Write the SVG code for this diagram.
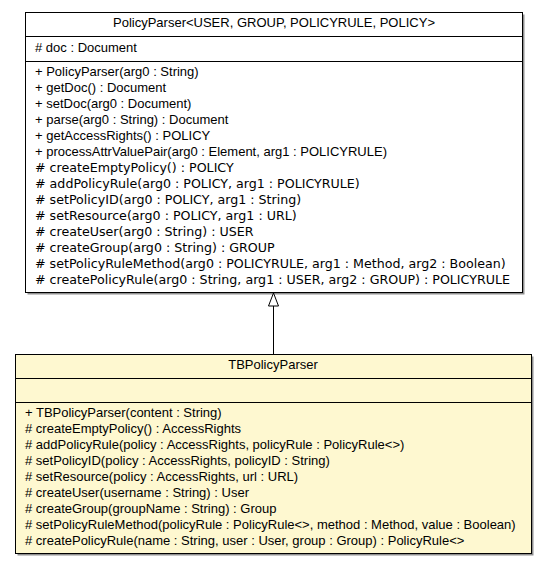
<svg xmlns="http://www.w3.org/2000/svg" width="547" height="565" viewBox="0 0 547 565">
<style>
  .box { stroke: #000; stroke-width: 1; }
  .shadow { fill: #909090; }
  .sep { stroke: #000; stroke-width: 1; }
  .t { font-family: "Liberation Sans", Arial, sans-serif; font-size: 13px; fill: #000; }
  .p { font-family: "DejaVu Sans", "Liberation Sans", sans-serif; font-size: 12.65px; fill: #000; }
  .c { text-anchor: middle; }
  .conn { stroke: #000; stroke-width: 1; fill: none; }
</style>
<defs>
  <marker id="gen" markerWidth="15" markerHeight="13" refX="13.5" refY="6.5" orient="auto" markerUnits="userSpaceOnUse" viewBox="0 0 15 13">
    <path d="M13.5,6.5 L0.5,1.5 L0.5,11.5 Z" fill="#fff" stroke="#000" stroke-width="1"/>
  </marker>
</defs>
<rect width="547" height="565" fill="#fff"/>
<g id="PolicyParser">
  <rect class="shadow" x="27.5" y="14.5" width="497" height="280"/>
  <rect class="box" x="25.5" y="12.5" width="497" height="280" fill="#fff"/>
  <line class="sep" x1="25.5" y1="36.5" x2="522.5" y2="36.5"/>
  <line class="sep" x1="25.5" y1="61.5" x2="522.5" y2="61.5"/>
  <text class="t c" x="274" y="27">PolicyParser&lt;USER, GROUP, POLICYRULE, POLICY&gt;</text>
  <text class="t" x="35" y="52"># doc : Document</text>
  <text class="t" x="35" y="76">+ PolicyParser(arg0 : String)</text>
  <text class="t" x="35" y="92">+ getDoc() : Document</text>
  <text class="t" x="35" y="108">+ setDoc(arg0 : Document)</text>
  <text class="t" x="35" y="124">+ parse(arg0 : String) : Document</text>
  <text class="t" x="35" y="140">+ getAccessRights() : POLICY</text>
  <text class="t" x="35" y="156">+ processAttrValuePair(arg0 : Element, arg1 : POLICYRULE)</text>
  <text class="p" x="35" y="172"># createEmptyPolicy() : POLICY</text>
  <text class="p" x="35" y="188"># addPolicyRule(arg0 : POLICY, arg1 : POLICYRULE)</text>
  <text class="p" x="35" y="204"># setPolicyID(arg0 : POLICY, arg1 : String)</text>
  <text class="p" x="35" y="220"># setResource(arg0 : POLICY, arg1 : URL)</text>
  <text class="p" x="35" y="236"># createUser(arg0 : String) : USER</text>
  <text class="p" x="35" y="252"># createGroup(arg0 : String) : GROUP</text>
  <text class="p" x="35" y="268"># setPolicyRuleMethod(arg0 : POLICYRULE, arg1 : Method, arg2 : Boolean)</text>
  <text class="p" x="35" y="284"># createPolicyRule(arg0 : String, arg1 : USER, arg2 : GROUP) : POLICYRULE</text>
</g>
<g id="TBPolicyParser">
  <rect class="shadow" x="17.5" y="356.5" width="516" height="199"/>
  <rect class="box" x="15.5" y="354.5" width="516" height="199" fill="#fef8d0"/>
  <line class="sep" x1="15.5" y1="378.5" x2="531.5" y2="378.5"/>
  <line class="sep" x1="15.5" y1="402.5" x2="531.5" y2="402.5"/>
  <text class="t c" x="273" y="369">TBPolicyParser</text>
  <text class="t" x="25" y="417">+ TBPolicyParser(content : String)</text>
  <text class="t" x="25" y="433"># createEmptyPolicy() : AccessRights</text>
  <text class="t" x="25" y="449"># addPolicyRule(policy : AccessRights, policyRule : PolicyRule&lt;&gt;)</text>
  <text class="t" x="25" y="465"># setPolicyID(policy : AccessRights, policyID : String)</text>
  <text class="t" x="25" y="481"># setResource(policy : AccessRights, url : URL)</text>
  <text class="t" x="25" y="497"># createUser(username : String) : User</text>
  <text class="t" x="25" y="513"># createGroup(groupName : String) : Group</text>
  <text class="t" x="25" y="529"># setPolicyRuleMethod(policyRule : PolicyRule&lt;&gt;, method : Method, value : Boolean)</text>
  <text class="t" x="25" y="545"># createPolicyRule(name : String, user : User, group : Group) : PolicyRule&lt;&gt;</text>
</g>
<g id="connectors">
  <line class="conn" x1="273.5" y1="354" x2="273.5" y2="293" marker-end="url(#gen)"/>
</g>
</svg>
